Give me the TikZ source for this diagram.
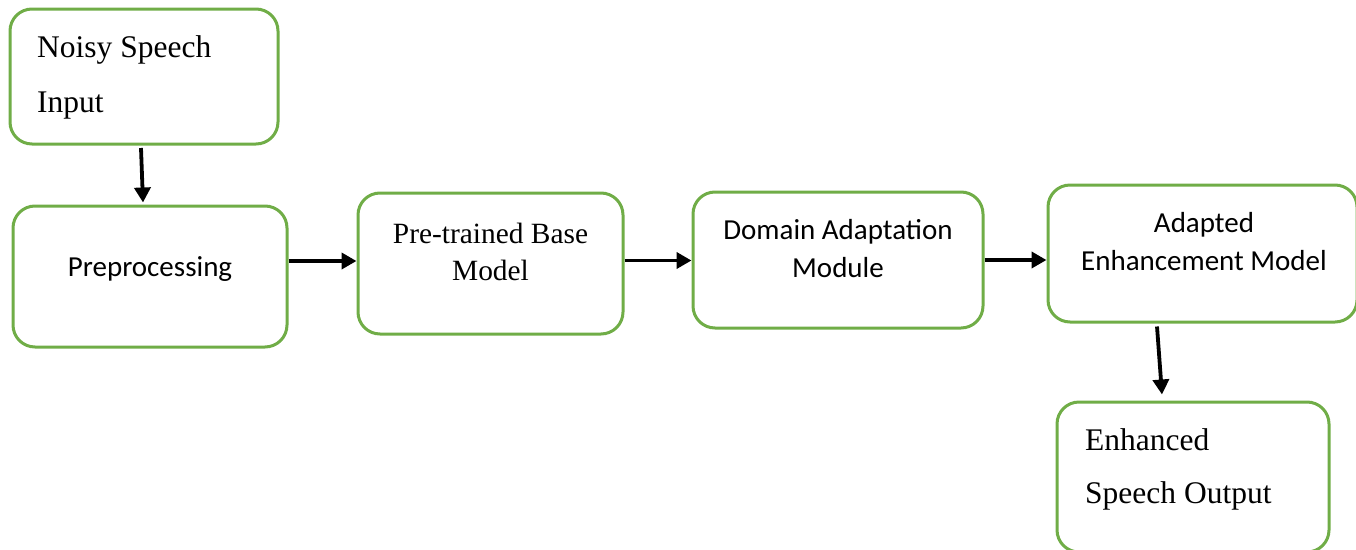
\documentclass[tikz,border=0pt]{standalone}
\usepackage{fontspec}
\setmainfont{Liberation Serif}
\newfontfamily\calibfont{Carlito}
\usetikzlibrary{arrows.meta}
\definecolor{boxgreen}{HTML}{70AD47}
\tikzset{
  box/.style={draw=boxgreen, line width=3pt, rounded corners=22pt, fill=white, inner sep=0pt},
  arr/.style={draw=black, line width=3.8pt, -{Triangle[length=15pt,width=16pt]}},
  sertxt/.style={inner sep=0pt, font=\fontsize{31.5}{38}\selectfont},
  sertxtsm/.style={inner sep=0pt, font=\fontsize{29.4}{36}\selectfont},
  santxt/.style={inner sep=0pt, font=\calibfont\fontsize{29}{36}\selectfont}
}
\begin{document}
\begin{tikzpicture}[x=1pt,y=-1pt]
\useasboundingbox (0,0) rectangle (1356,549);
% boxes
\node[box, minimum width=268pt, minimum height=135pt] (b1) at (144,76.5) {};
\node[box, minimum width=274pt, minimum height=141pt] (b2) at (150,276.5) {};
\node[box, minimum width=265pt, minimum height=141pt] (b3) at (490.5,263.5) {};
\node[box, minimum width=290pt, minimum height=136pt] (b4) at (838,260) {};
\node[box, minimum width=309pt, minimum height=137pt] (b5) at (1202.5,253.5) {};
\node[box, minimum width=272pt, minimum height=150pt] (b6) at (1193,477) {};
% texts
\node[sertxt, anchor=base west] (t1a) at (37,57) {Noisy Speech};
\node[sertxt, anchor=base west] (t1b) at (37,112) {Input};
\node[santxt, anchor=base] (t2) at (150,276) {Preprocessing};
\node[sertxtsm, anchor=base] (t3a) at (490.5,243) {Pre-trained Base};
\node[sertxtsm, anchor=base] (t3b) at (490.5,280) {Model};
\node[santxt, anchor=base] (t4a) at (838,239) {Domain Adaptation};
\node[santxt, anchor=base] (t4b) at (838,277) {Module};
\node[santxt, anchor=base] (t5a) at (1204,232) {Adapted};
\node[santxt, anchor=base] (t5b) at (1204,270) {Enhancement Model};
\node[sertxt, anchor=base west] (t6a) at (1085,450) {Enhanced};
\node[sertxt, anchor=base west] (t6b) at (1085,503) {Speech Output};
% connectors
\draw[arr] ([xshift=-3pt,yshift=-2.5pt]b1.south) -- ([xshift=-7pt,yshift=2pt]b2.north);
\draw[arr] ([yshift=15.5pt]b2.east) -- ([yshift=15.5pt]b2.east -| b3.west);
\draw[arr] ([yshift=3pt]b3.east) -- ([yshift=3pt]b3.east -| b4.west);
\draw[arr] (b4.east) -- (b4.east -| b5.west);
\draw[arr] ([xshift=-45.5pt,yshift=-3pt]b5.south) -- ([xshift=-31pt,yshift=6pt]b6.north);
\end{tikzpicture}
\end{document}
